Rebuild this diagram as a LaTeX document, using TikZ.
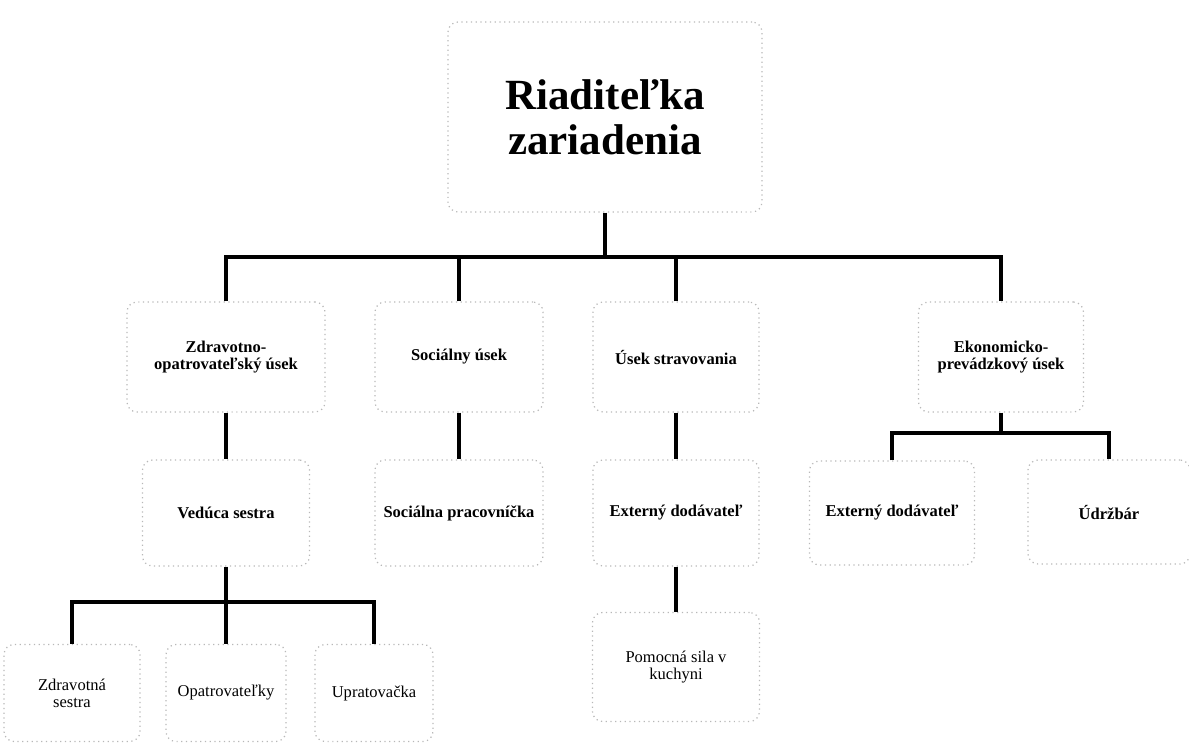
\documentclass[tikz,border=0pt]{standalone}
\usepackage{fontspec}
\setmainfont{Liberation Serif}
\newlength{\px}
\setlength{\px}{0.02cm}

\tikzset{
	unit/.style={draw=black!28, dotted, line width=0.7pt, rounded corners=0.2cm, align=center, inner sep=0pt},
	dept/.style={unit, font=\bfseries\fontsize{9.4}{9.8}\selectfont},
	staff/.style={unit, font=\fontsize{9.4}{9.8}\selectfont},
	link/.style={line width=2pt}
}

\begin{document}
\begin{tikzpicture}[x=0.02cm,y=-0.02cm]
		\useasboundingbox (0,0) rectangle (1189,744);

		\node[unit, minimum width=314\px, minimum height=190\px, font=\bfseries\fontsize{24.5}{25.5}\selectfont] (dir) at (605,117) {Riaditeľka\\zariadenia};

		\node[dept, minimum width=198\px, minimum height=110\px] (zdrav) at (226,357) {Zdravotno-\\opatrovateľský úsek};
		\node[dept, minimum width=168\px, minimum height=110\px] (soc) at (459,357) {Sociálny úsek};
		\node[dept, minimum width=166\px, minimum height=110\px] (strav) at (676,357) {Úsek stravovania};
		\node[dept, minimum width=165\px, minimum height=110\px] (ekon) at (1001,357) {Ekonomicko-\\prevádzkový úsek};

		\node[dept, minimum width=167\px, minimum height=106\px] (ved) at (226,513) {Vedúca sestra};
		\node[dept, minimum width=168\px, minimum height=106\px] (socprac) at (459,513) {Sociálna pracovníčka};
		\node[dept, minimum width=166\px, minimum height=106\px] (extstr) at (676,513) {Externý dodávateľ};
		\node[dept, minimum width=165\px, minimum height=104\px] (extek) at (892,513) {Externý dodávateľ};
		\node[dept, minimum width=162\px, minimum height=104\px] (udrz) at (1109,512) {Údržbár};

		\node[staff, minimum width=136\px, minimum height=97\px] (zdrsest) at (72,693) {Zdravotná\\sestra};
		\node[staff, minimum width=120\px, minimum height=97\px] (opatr) at (226,693) {Opatrovateľky};
		\node[staff, minimum width=118\px, minimum height=97\px] (uprat) at (374,693) {Upratovačka};
		\node[staff, minimum width=167\px, minimum height=109\px] (pomoc) at (676,667) {Pomocná sila v\\kuchyni};

		\coordinate (top) at (605,257);
		\coordinate (ekbus) at (1001,433);
		\coordinate (vbus) at (226,602);

		\draw[link] (dir) -- (top);
		\draw[link] (zdrav) |- (top) -| (ekon);
		\draw[link] (soc) -- (soc |- top);
		\draw[link] (strav) -- (strav |- top);

		\draw[link] (zdrav) -- (ved);
		\draw[link] (soc) -- (socprac);
		\draw[link] (strav) -- (extstr);
		\draw[link] (extstr) -- (pomoc);

		\draw[link] (ekon) -- (ekbus);
		\draw[link] (extek) |- (ekbus) -| (udrz);

		\draw[link] (ved) -- (opatr);
		\draw[link] (zdrsest) |- (vbus) -| (uprat);
	\end{tikzpicture}
\end{document}
